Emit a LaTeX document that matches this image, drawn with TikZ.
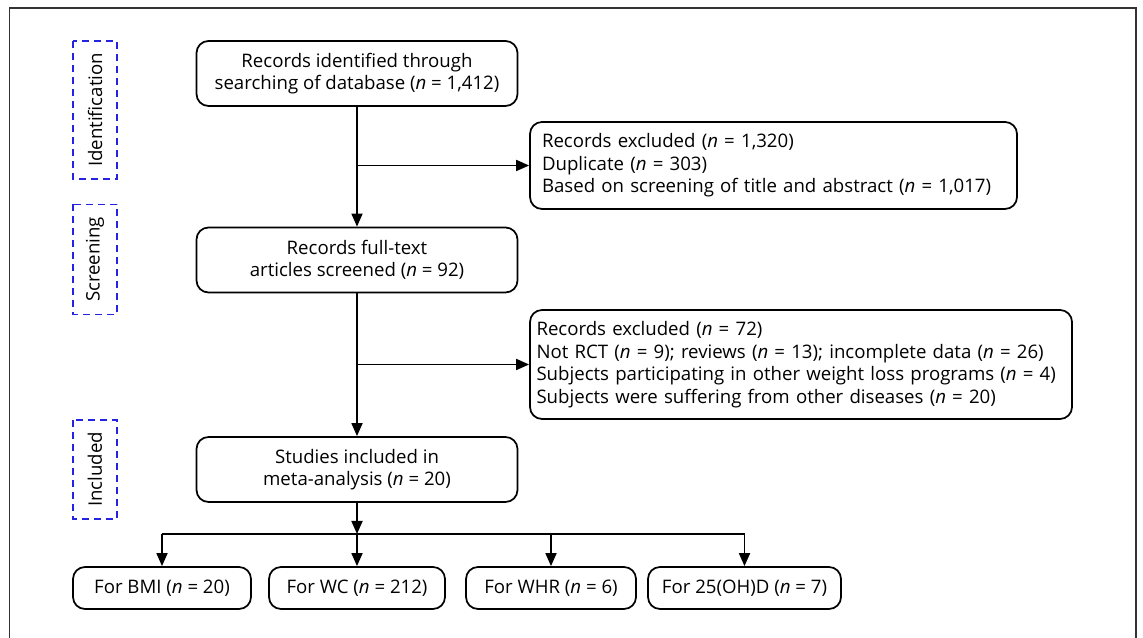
\documentclass[tikz,border=0pt]{standalone}
\usepackage{fontspec}
\setmainfont{Open Sans}
\usepackage{xcolor}
\usetikzlibrary{arrows.meta, positioning}
\definecolor{stageblue}{RGB}{35,35,225}

\begin{document}
\begin{tikzpicture}[every node/.style={font=\fontsize{10.6}{12.8}\selectfont},
    flowbox/.style={draw, rounded corners=0.24cm, line width=1pt, align=center, minimum width=6.42cm, minimum height=1.3cm},
    exbox/.style={draw, rounded corners=0.24cm, line width=1pt, align=left, inner xsep=0.24cm},
    endbox/.style={draw, rounded corners=0.24cm, line width=1pt, minimum height=0.84cm, inner xsep=0.2cm},
    stagebox/.style={draw=stageblue, dashed, dash pattern=on 1.4mm off 1mm, line width=1pt, rotate=90, minimum height=0.88cm},
    arr/.style={-{Triangle[length=2.6mm,width=2.2mm]}, line width=1pt}]
            \useasboundingbox (0,0) rectangle (22.86,12.76);
            \draw[line width=0.7pt, black!80] (0.19,0) -- (0.19,12.60) -- (22.72,12.60) -- (22.72,0);
            % stages
            \node[stagebox, minimum width=2.76cm] (ident) at (1.9,10.56) {Identification};
            \node[stagebox, minimum width=2.2cm] (scrlabel) at (1.9,7.57) {Screening};
            \node[stagebox, minimum width=1.98cm] (inclabel) at (1.9,3.37) {Included};
            % main column
            \node[flowbox] (search) at (7.14,11.29) {Records identified through\\searching of database (\textit{n} = 1,412)};
            \node[flowbox] (screen) at (7.14,7.56) {Records full-text\\articles screened (\textit{n} = 92)};
            \node[flowbox] (incl) at (7.14,3.37) {Studies included in\\meta-analysis (\textit{n} = 20)};
            \node[exbox, text width=9.26cm, minimum height=1.74cm] (excl1) at (15.47,9.45) {Records excluded (\textit{n} = 1,320)\\Duplicate (\textit{n} = 303)\\Based on screening of title and abstract (\textit{n} = 1,017)};
            \node[exbox, text width=10.58cm, inner xsep=0.13cm, minimum height=2.18cm] (excl2) at (16.02,5.47) {Records excluded (\textit{n} = 72)\\Not RCT (\textit{n} = 9); reviews (\textit{n} = 13); incomplete data (\textit{n} = 26)\\Subjects participating in other weight loss programs (\textit{n} = 4)\\Subjects were suffering from other diseases (\textit{n} = 20)};
            % outcomes
            \node[endbox, minimum width=3.56cm] (bmi) at (3.24,1.0) {For BMI (\textit{n} = 20)};
            \node[endbox, minimum width=3.52cm] (wc) at (7.14,1.0) {For WC (\textit{n} = 212)};
            \node[endbox, minimum width=3.4cm] (whr) at (11.02,1.0) {For WHR (\textit{n} = 6)};
            \node[endbox, minimum width=3.86cm] (vitd) at (14.89,1.0) {For 25(OH)D (\textit{n} = 7)};
            \coordinate (split) at (7.14,2.08);
            \draw[arr] (search) -- (screen);
            \draw[arr] (search.south |- excl1.west) -- (excl1.west);
            \draw[arr] (screen) -- (incl);
            \draw[arr] (screen.south |- excl2.west) -- (excl2.west);
            \draw[arr] (incl) -- (split);
            \draw[line width=1pt] (bmi.north |- split) -- (vitd.north |- split);
            \foreach \b in {bmi,wc,whr,vitd}
                \draw[arr] (\b.north |- split) -- (\b.north);
        \end{tikzpicture}
\end{document}
